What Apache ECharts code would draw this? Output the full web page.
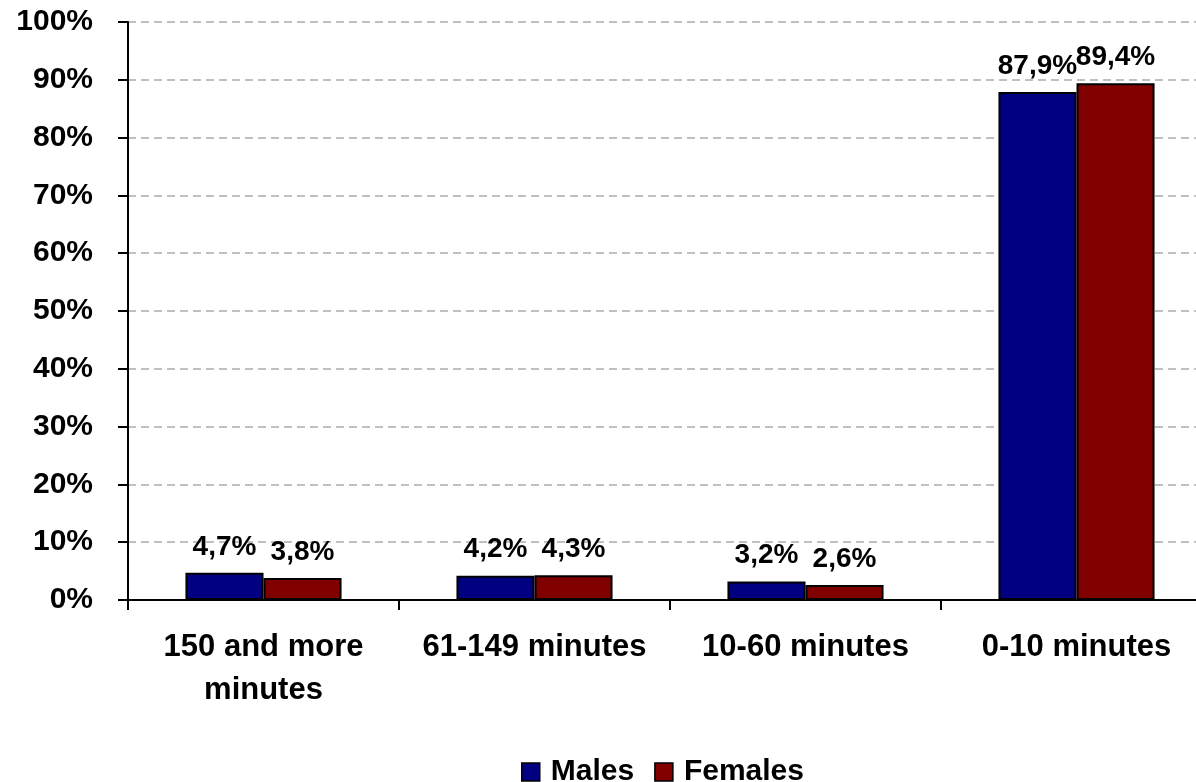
<!DOCTYPE html>
<html>
<head>
<meta charset="utf-8">
<script src="https://cdn.jsdelivr.net/npm/echarts@6/dist/echarts.min.js"></script>
<style>html,body{margin:0;padding:0;background:#fff}#c{width:1196px;height:782px}</style>
</head>
<body>
<div id="c"></div>
<script>
const categories = ['150 and more\nminutes', '61-149 minutes', '10-60 minutes', '0-10 minutes'];
const males = [4.7, 4.2, 3.2, 87.9];
const females = [3.8, 4.3, 2.6, 89.4];
const seriesNames = ['Males', 'Females'];

const FONT = '"Liberation Sans", Arial, sans-serif';
const chart = echarts.init(document.getElementById('c'));
const labelFmt = p => String(p.value.toFixed(1)).replace('.', ',') + '%';
const barStyle = color => ({ color: color, borderColor: '#000', borderWidth: 2 });
const label = {
  show: true, position: 'top', distance: 12, formatter: labelFmt,
  color: '#000', fontFamily: FONT, fontWeight: 'bold', fontSize: 28
};
chart.setOption({
  animation: false,
  backgroundColor: '#fff',
  grid: { left: 128, top: 22, bottom: 182, width: 1084, containLabel: false, outerBoundsMode: 'none' },
  legend: {
    data: seriesNames, left: 516, top: 752, itemWidth: 18, itemHeight: 18, itemGap: 20, icon: 'rect',
    textStyle: { fontFamily: FONT, fontWeight: 'bold', fontSize: 30, color: '#000', padding: [0, 0, 0, 6] },
    itemStyle: { borderColor: '#000', borderWidth: 1.5 }
  },
  xAxis: {
    type: 'category', data: categories,
    axisLine: { lineStyle: { color: '#000', width: 2 } },
    axisTick: { show: true, alignWithLabel: false, length: 10, lineStyle: { color: '#000', width: 2 } },
    axisLabel: { interval: 0, margin: 26, fontFamily: FONT, fontWeight: 'bold', fontSize: 31, color: '#000', lineHeight: 43 }
  },
  yAxis: {
    type: 'value', min: 0, max: 100, interval: 10,
    axisLine: { show: true, lineStyle: { color: '#000', width: 2 } },
    axisTick: { show: true, length: 10, lineStyle: { color: '#000', width: 2 } },
    axisLabel: { margin: 35, formatter: v => v + '%', fontFamily: FONT, fontWeight: 'bold', fontSize: 30, color: '#000' },
    splitLine: { show: true, lineStyle: { color: '#c0c0c0', width: 2, type: [8, 5] } }
  },
  series: [
    { name: seriesNames[0], type: 'bar', data: males, barGap: '0%', barCategoryGap: '42.4%', itemStyle: barStyle('#000080'), label: label },
    { name: seriesNames[1], type: 'bar', data: females, barGap: '0%', barCategoryGap: '42.4%', itemStyle: barStyle('#800000'), label: label }
  ]
});
</script>
</body>
</html>
